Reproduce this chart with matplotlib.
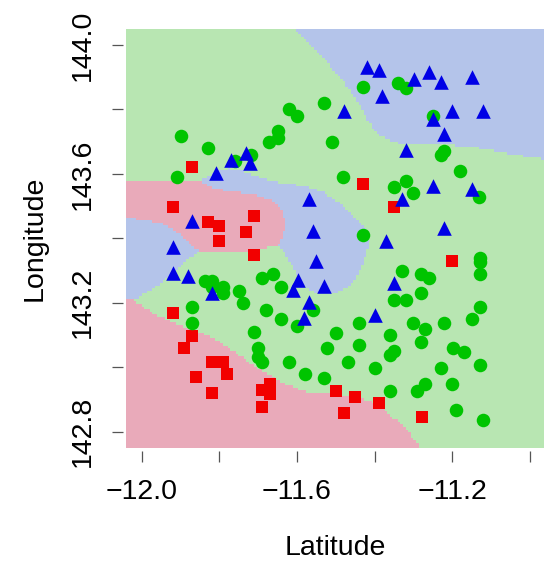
import numpy as np
import matplotlib
matplotlib.use("Agg")
import matplotlib.pyplot as plt

# class 1: red squares
red_lat = [-11.870, -11.920, -11.830, -11.801, -11.801, -11.710, -11.731, -11.710,
           -11.920, -11.870, -11.890, -11.819, -11.790, -11.780, -11.859, -11.819,
           -11.670, -11.691, -11.670, -11.691, -11.431, -11.349, -11.200, -11.500,
           -11.450, -11.390, -11.480, -11.279]
red_lon = [143.621, 143.498, 143.451, 143.438, 143.392, 143.469, 143.420, 143.348,
           143.169, 143.097, 143.059, 143.017, 143.017, 142.978, 142.970, 142.919,
           142.948, 142.930, 142.917, 142.878, 143.569, 143.497, 143.329, 142.928,
           142.909, 142.889, 142.859, 142.847]

# class 2: green circles
green_lat = [-11.900, -11.830, -11.909, -11.760, -11.719, -11.671, -11.650, -11.650,
             -11.620, -11.600, -11.530, -11.510, -11.431, -11.340, -11.319, -11.251,
             -11.222, -11.230, -11.180, -11.481, -11.319, -11.349, -11.301, -11.131,
             -11.430, -11.837, -11.820, -11.820, -11.790, -11.790, -11.749, -11.739,
             -11.870, -11.870, -11.689, -11.661, -11.640, -11.681, -11.640, -11.601,
             -11.560, -11.710, -11.700, -11.700, -11.689, -11.620, -11.579, -11.530,
             -11.522, -11.500, -11.129, -11.129, -11.129, -11.330, -11.281, -11.261,
             -11.280, -11.350, -11.319, -11.129, -11.150, -11.221, -11.301, -11.270,
             -11.440, -11.361, -11.280, -11.440, -11.199, -11.170, -11.350, -11.361,
             -11.470, -11.400, -11.229, -11.129, -11.270, -11.290, -11.200, -11.361,
             -11.191, -11.120]
green_lon = [143.719, 143.680, 143.590, 143.639, 143.660, 143.699, 143.710, 143.732,
             143.800, 143.780, 143.820, 143.698, 143.871, 143.881, 143.868, 143.780,
             143.671, 143.659, 143.609, 143.590, 143.579, 143.558, 143.540, 143.529,
             143.410, 143.269, 143.269, 143.250, 143.250, 143.230, 143.238, 143.199,
             143.188, 143.138, 143.278, 143.289, 143.248, 143.178, 143.149, 143.128,
             143.178, 143.109, 143.059, 143.033, 143.017, 143.017, 142.979, 142.968,
             143.061, 143.106, 143.338, 143.328, 143.289, 143.299, 143.289, 143.278,
             143.230, 143.209, 143.209, 143.188, 143.149, 143.138, 143.138, 143.119,
             143.139, 143.099, 143.078, 143.069, 143.059, 143.048, 143.051, 143.038,
             143.018, 142.999, 142.999, 143.008, 142.948, 142.927, 142.948, 142.928,
             142.868, 142.837]

# class 3: blue triangles
blue_lat = [-11.421, -11.390, -11.260, -11.299, -11.230, -11.149, -11.380, -11.480,
            -11.201, -11.120, -11.251, -11.221, -11.320, -11.251, -11.150, -11.330,
            -11.221, -11.370, -11.731, -11.771, -11.720, -11.809, -11.570, -11.560,
            -11.870, -11.920, -11.920, -11.880, -11.819, -11.550, -11.597, -11.610,
            -11.531, -11.570, -11.581, -11.399, -11.350]
blue_lon = [143.933, 143.922, 143.915, 143.894, 143.884, 143.902, 143.843, 143.794,
            143.794, 143.794, 143.770, 143.723, 143.674, 143.563, 143.553, 143.522,
            143.432, 143.392, 143.664, 143.643, 143.633, 143.602, 143.522, 143.423,
            143.454, 143.374, 143.292, 143.283, 143.231, 143.331, 143.271, 143.241,
            143.251, 143.204, 143.152, 143.161, 143.262]

xticks = [-12.0, -11.8, -11.6, -11.4, -11.2, -11.0]
yticks = [142.8, 143.0, 143.2, 143.4, 143.6, 143.8, 144.0]
xlim = (-12.0404, -10.964)
ylim = (142.7487, 144.0487)

bg_cols = np.array([[233, 170, 186], [184, 230, 178], [180, 196, 234]]) / 255.0

plt.rcParams['font.family'] = ['Liberation Sans', 'DejaVu Sans']

fig = plt.figure(figsize=(5.44, 5.64), dpi=100)
ax = fig.add_axes([126 / 544, 1 - 448.3 / 564, 1 - 126 / 544, (448.3 - 29.3) / 564])

# class regions from a gaussian kernel vote over the labelled points
gx = np.linspace(xlim[0], xlim[1], 160)
gy = np.linspace(ylim[0], ylim[1], 160)
GX, GY = np.meshgrid(gx, gy)
h = 0.09
scores = []
for la, lo in [(red_lat, red_lon), (green_lat, green_lon), (blue_lat, blue_lon)]:
    la = np.array(la)
    lo = np.array(lo)
    d2 = (GX[..., None] - la) ** 2 + (GY[..., None] - lo) ** 2
    scores.append(np.exp(-d2 / (2 * h * h)).sum(axis=-1))
cls = np.argmax(np.stack(scores), axis=0)
ax.imshow(bg_cols[cls], origin='lower', extent=(xlim[0], xlim[1], ylim[0], ylim[1]),
          aspect='auto', interpolation='nearest')

ax.scatter(red_lat, red_lon, marker='s', s=80, color='#f20000', linewidths=0, zorder=3)
ax.scatter(green_lat, green_lon, marker='o', s=95, color='#00c400', linewidths=0, zorder=3)
ax.scatter(blue_lat, blue_lon, marker='^', s=110, color='#0000e6', linewidths=0, zorder=3)

ax.set_xlim(xlim)
ax.set_ylim(ylim)
for s in ax.spines.values():
    s.set_visible(False)
ax.spines['bottom'].set_position(('outward', 2))
ax.spines['left'].set_position(('outward', 2))
ax.set_xticks(xticks)
ax.set_xticklabels(['\u221212.0', '', '\u221211.6', '', '\u221211.2', ''])
ax.set_yticks(yticks)
ax.set_yticklabels(['142.8', '', '143.2', '', '143.6', '', '144.0'], rotation=90, va='center')
ax.tick_params(length=8, width=0.9, color='#555555', labelsize=20.5, pad=12)
ax.set_xlabel('Latitude', fontsize=20.5, labelpad=22)
ax.set_ylabel('Longitude', fontsize=20.5, labelpad=16)

fig.savefig('out.png', dpi=100)
